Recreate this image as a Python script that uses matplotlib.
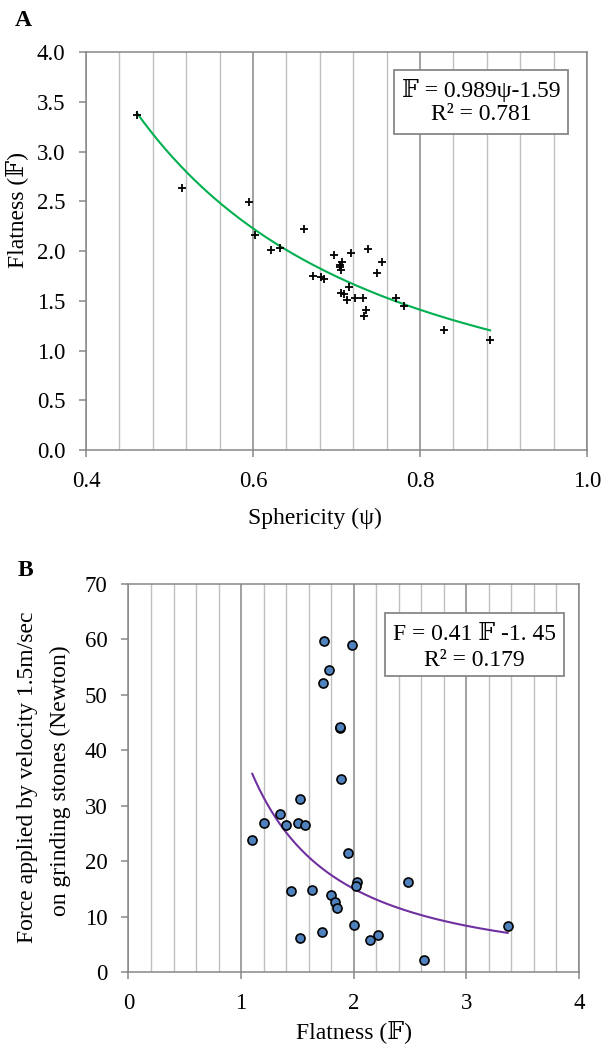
import numpy as np
import matplotlib
matplotlib.use("Agg")
import matplotlib.pyplot as plt
from matplotlib.patches import Rectangle

plt.rcParams['font.family'] = ['Liberation Serif', 'DejaVu Serif', 'DejaVu Sans']

# ---- panel A data: sphericity vs flatness ----
sphericity = [0.461, 0.515, 0.595, 0.603, 0.621, 0.632, 0.661, 0.672, 0.682, 0.685,
              0.697, 0.707, 0.704, 0.704, 0.705, 0.717, 0.738, 0.755, 0.748, 0.715,
              0.706, 0.709, 0.713, 0.722, 0.732, 0.735, 0.733, 0.771, 0.781, 0.829,
              0.884]
flatness_a = [3.37, 2.63, 2.49, 2.16, 2.01, 2.03, 2.22, 1.75, 1.74, 1.72,
              1.96, 1.89, 1.86, 1.84, 1.81, 1.98, 2.02, 1.89, 1.78, 1.64,
              1.58, 1.57, 1.51, 1.53, 1.53, 1.41, 1.35, 1.53, 1.45, 1.21,
              1.11]
fit_a = (0.989, -1.59)   # power fit: F = a * psi^b

# ---- panel B data: flatness vs force ----
flatness_b = [1.882, 1.887, 1.523, 1.348, 1.200, 1.398, 1.505, 1.567, 1.099, 1.953,
              2.030, 2.018, 2.486, 1.443, 1.630, 1.801, 1.831, 1.855, 2.003, 3.366,
              1.716, 1.523, 2.213, 2.148, 2.625, 1.739, 1.983, 1.780, 1.729, 1.881]
force = [44.1, 34.9, 31.2, 28.5, 26.9, 26.6, 26.9, 26.5, 23.9, 21.5,
         16.2, 15.5, 16.2, 14.7, 14.8, 13.8, 12.6, 11.5, 8.4, 8.3,
         7.3, 6.1, 6.7, 5.7, 2.2, 59.8, 59.0, 54.4, 52.2, 44.2]
fit_b = (41.0, -1.45)

grid_minor = '#c0c0c0'
grid_major = '#878787'
W, H = 603.0, 1050.0


def style_axes(ax, minor_step, xlim):
    for s in ax.spines.values():
        s.set_color(grid_major)
        s.set_linewidth(1.1)
    ax.set_xticks(np.arange(xlim[0], xlim[1] + 1e-9, minor_step), minor=True)
    ax.grid(True, which='minor', axis='x', color=grid_minor, linewidth=1.0)
    ax.grid(True, which='major', axis='x', color=grid_major, linewidth=1.1)
    ax.tick_params(which='major', direction='out', length=5, width=1.1,
                   color=grid_major, labelsize=16.5, pad=10)
    ax.tick_params(which='minor', length=0)
    ax.set_axisbelow(True)


fig = plt.figure(figsize=(6.03, 10.5), dpi=100)

# ---------------- A ----------------
axA = fig.add_axes([0.1426, 0.5714, 0.8308, 0.3790])
axA.set_xlim(0.4, 1.0)
axA.set_ylim(0.0, 4.0)
axA.set_xticks([0.4, 0.6, 0.8, 1.0])
axA.set_yticks(np.arange(0, 4.01, 0.5))
axA.xaxis.set_major_formatter(matplotlib.ticker.FormatStrFormatter('%.1f'))
axA.yaxis.set_major_formatter(matplotlib.ticker.FormatStrFormatter('%.1f'))
style_axes(axA, 0.04, (0.4, 1.0))
xs = np.linspace(min(sphericity), max(sphericity), 200)
axA.plot(xs, fit_a[0] * xs ** fit_a[1], color='#00b050', linewidth=1.5, zorder=3)
axA.plot(sphericity, flatness_a, '+', color='black', markersize=5.5, mew=1.3, zorder=4)
fig.text(315 / W, 1 - 518 / H, 'Sphericity (ψ)', fontsize=17, ha='center', va='center')
fig.text(17 / W, 1 - 210 / H, 'Flatness (𝔽)', fontsize=17, ha='center', va='center',
         rotation=90)
axA.add_patch(Rectangle((0.615, 0.793), 0.348, 0.163, transform=axA.transAxes,
                        facecolor='white', edgecolor=grid_major, linewidth=1.3, zorder=5))
axA.text(0.789, 0.903, '𝔽 = 0.989ψ-1.59', transform=axA.transAxes, ha='center',
         va='center', fontsize=17, zorder=6)
axA.text(0.789, 0.843, 'R² = 0.781', transform=axA.transAxes, ha='center',
         va='center', fontsize=17, zorder=6)
fig.text(23 / W, 1 - 21 / H, 'A', fontsize=17, fontweight='bold', ha='center', va='center')

# ---------------- B ----------------
axB = fig.add_axes([0.2131, 0.0743, 0.7471, 0.3695])
axB.set_xlim(0, 4)
axB.set_ylim(0, 70)
axB.set_xticks([0, 1, 2, 3, 4])
axB.set_yticks(np.arange(0, 71, 10))
style_axes(axB, 0.2, (0, 4))
xs = np.linspace(min(flatness_b), max(flatness_b), 200)
axB.plot(xs, fit_b[0] * xs ** fit_b[1], color='#7030a0', linewidth=1.5, zorder=3)
axB.plot(flatness_b, force, 'o', markerfacecolor='#4f81bd', markeredgecolor='black',
         markersize=6.5, mew=1.2, zorder=4)
fig.text(354 / W, 1 - 1032 / H, 'Flatness (𝔽)', fontsize=17, ha='center', va='center')
fig.text(28 / W, 1 - 777 / H, 'Force applied by velocity 1.5m/sec', fontsize=17,
         ha='center', va='center', rotation=90)
fig.text(60 / W, 1 - 781 / H, 'on grinding stones (Newton)', fontsize=17,
         ha='center', va='center', rotation=90)
axB.add_patch(Rectangle((0.570, 0.762), 0.397, 0.164, transform=axB.transAxes,
                        facecolor='white', edgecolor=grid_major, linewidth=1.3, zorder=5))
axB.text(0.768, 0.869, 'F = 0.41 𝔽 -1. 45', transform=axB.transAxes, ha='center',
         va='center', fontsize=17, zorder=6)
axB.text(0.768, 0.804, 'R² = 0.179', transform=axB.transAxes, ha='center',
         va='center', fontsize=17, zorder=6)
fig.text(25 / W, 1 - 571 / H, 'B', fontsize=17, fontweight='bold', ha='center', va='center')

fig.savefig('out.png', dpi=100)
